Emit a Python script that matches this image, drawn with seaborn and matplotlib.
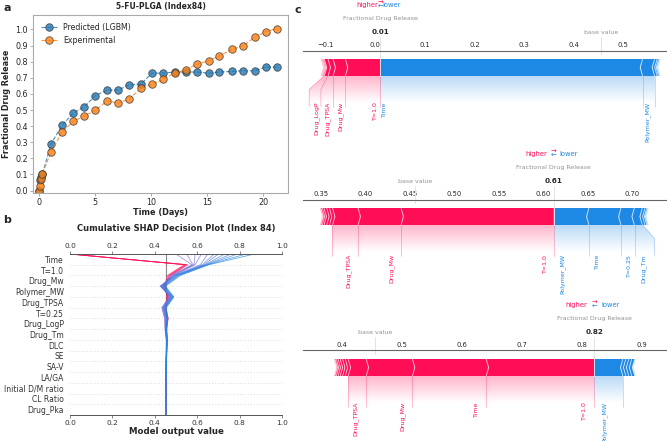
import numpy as np
import pandas as pd
import matplotlib
matplotlib.use("Agg")
import matplotlib.pyplot as plt
import seaborn as sns
from matplotlib.colors import LinearSegmentedColormap
from matplotlib.lines import Line2D
from matplotlib.path import Path
from matplotlib.patches import PathPatch, Polygon

sns.set_style("white")
plt.rcParams["font.family"] = ["DejaVu Sans"]

# ---------------- data: panel a ----------------
time_days = [0.0, 0.08, 0.2, 0.33, 1.1, 2.1, 3.1, 4.0, 5.05, 6.1, 7.1, 8.05, 9.1,
             10.1, 11.05, 12.1, 13.1, 14.1, 15.15, 16.1, 17.2, 18.2, 19.25, 20.2, 21.2]
pred_lgbm = [0.0, 0.065, 0.085, 0.1, 0.289, 0.407, 0.481, 0.517, 0.589, 0.624, 0.624,
             0.657, 0.661, 0.729, 0.729, 0.736, 0.736, 0.736, 0.729, 0.736, 0.74, 0.744,
             0.744, 0.767, 0.767]
experimental = [0.0, 0.03, 0.075, 0.105, 0.238, 0.366, 0.43, 0.461, 0.498, 0.558, 0.543,
                0.568, 0.634, 0.659, 0.69, 0.729, 0.75, 0.785, 0.806, 0.837, 0.876, 0.899,
                0.952, 0.986, 1.006]
series_names = ["Predicted (LGBM)", "Experimental"]

# ---------------- data: panel b (decision plot) ----------------
decision_features = ["Time", "T=1.0", "Drug_Mw", "Polymer_MW", "Drug_TPSA", "T=0.25",
                     "Drug_LogP", "Drug_Tm", "DLC", "SE", "SA-V", "LA/GA",
                     "Initial D/M ratio", "CL Ratio", "Drug_Pka"]
decision_base = 0.452
# cumulative model output at each feature boundary, bottom (base) -> top (final)
decision_paths = [
    [0.452, 0.452, 0.452, 0.453, 0.453, 0.454, 0.455, 0.456, 0.452, 0.458, 0.447, 0.458, 0.445, 0.460, 0.540, 0.000],
    [0.452, 0.452, 0.452, 0.453, 0.453, 0.454, 0.455, 0.457, 0.453, 0.460, 0.449, 0.460, 0.450, 0.465, 0.545, 0.000],
    [0.452, 0.452, 0.452, 0.453, 0.453, 0.454, 0.455, 0.457, 0.454, 0.462, 0.450, 0.462, 0.447, 0.470, 0.550, 0.000],
    [0.452, 0.452, 0.452, 0.453, 0.453, 0.454, 0.456, 0.458, 0.455, 0.463, 0.452, 0.465, 0.443, 0.475, 0.555, 0.000],
    [0.452, 0.452, 0.452, 0.452, 0.453, 0.453, 0.454, 0.454, 0.448, 0.446, 0.433, 0.468, 0.440, 0.475, 0.575, 0.500],
    [0.452, 0.452, 0.452, 0.452, 0.453, 0.453, 0.454, 0.455, 0.449, 0.448, 0.435, 0.470, 0.436, 0.480, 0.580, 0.550],
    [0.452, 0.452, 0.452, 0.452, 0.453, 0.453, 0.454, 0.455, 0.450, 0.450, 0.437, 0.472, 0.432, 0.485, 0.585, 0.590],
    [0.452, 0.452, 0.452, 0.452, 0.453, 0.454, 0.455, 0.456, 0.451, 0.452, 0.439, 0.474, 0.428, 0.490, 0.590, 0.620],
    [0.452, 0.452, 0.452, 0.452, 0.453, 0.454, 0.455, 0.456, 0.452, 0.454, 0.440, 0.476, 0.425, 0.490, 0.615, 0.650],
    [0.452, 0.452, 0.452, 0.452, 0.453, 0.454, 0.455, 0.457, 0.452, 0.455, 0.442, 0.478, 0.428, 0.495, 0.625, 0.680],
    [0.452, 0.452, 0.452, 0.452, 0.453, 0.454, 0.455, 0.457, 0.453, 0.456, 0.444, 0.480, 0.430, 0.500, 0.632, 0.700],
    [0.452, 0.452, 0.452, 0.452, 0.453, 0.454, 0.456, 0.457, 0.453, 0.457, 0.446, 0.482, 0.434, 0.500, 0.638, 0.730],
    [0.452, 0.452, 0.452, 0.452, 0.453, 0.454, 0.456, 0.458, 0.454, 0.458, 0.448, 0.484, 0.438, 0.505, 0.642, 0.760],
    [0.452, 0.452, 0.452, 0.452, 0.453, 0.454, 0.456, 0.458, 0.455, 0.459, 0.450, 0.486, 0.442, 0.510, 0.646, 0.790],
    [0.452, 0.452, 0.452, 0.452, 0.453, 0.455, 0.457, 0.459, 0.456, 0.460, 0.452, 0.488, 0.446, 0.515, 0.650, 0.830],
    [0.452, 0.452, 0.452, 0.452, 0.453, 0.455, 0.457, 0.459, 0.457, 0.462, 0.454, 0.490, 0.450, 0.520, 0.655, 0.870],
]

# ---------------- data: panel c (force plots) ----------------
force_base = [0.455, 0.4555, 0.455]
force1_names = ["T=1.0", "Drug_Mw", "Drug_TPSA", "Drug_LogP", "Drug_Tm", "DLC", "SE", "SA-V",
                "Time", "Polymer_MW", "T=0.25", "LA/GA", "CL Ratio"]
force1_shap = [0.0713, 0.0248, 0.0101, 0.0075, 0.002, 0.0015, 0.001, 0.0005,
               -0.5295, -0.0242, -0.005, -0.003, -0.002]
force2_names = ["T=1.0", "Drug_Mw", "Drug_TPSA", "Drug_LogP", "DLC", "SE", "SA-V", "LA/GA",
                "Polymer_MW", "Time", "T=0.25", "Drug_Tm", "CL Ratio", "Initial D/M ratio", "Drug_Pka"]
force2_shap = [0.172, 0.0483, 0.0287, 0.0035, 0.003, 0.003, 0.002, 0.0015,
               -0.040, -0.036, -0.015, -0.009, -0.003, -0.002, -0.001]
force3_names = ["T=1.0", "Time", "Drug_Mw", "Drug_TPSA", "Drug_LogP", "DLC", "SE", "SA-V", "LA/GA", "Drug_Tm",
                "Polymer_MW", "T=0.25", "Initial D/M ratio", "CL Ratio", "Drug_Pka"]
force3_shap = [0.181, 0.123, 0.077, 0.030, 0.0049, 0.0045, 0.004, 0.0035, 0.003, 0.0021,
               -0.048, -0.00495, -0.00495, -0.00495, -0.00495]
force_out_name = "Fractional Drug Release"

# ---------------- figure ----------------
W, H = 667, 441
fig = plt.figure(figsize=(W / 100, H / 100), dpi=100)


def ax_px(left, top, right, bottom):
    return fig.add_axes([left / W, 1 - bottom / H, (right - left) / W, (bottom - top) / H])


# ===== panel a =====
axa = ax_px(33, 15, 288, 193)
n = len(time_days)
dfa = pd.DataFrame({
    "Time (Days)": time_days + time_days,
    "Fractional Drug Release": pred_lgbm + experimental,
    "series": [series_names[0]] * n + [series_names[1]] * n,
})
sns.lineplot(data=dfa, x="Time (Days)", y="Fractional Drug Release", hue="series",
             palette=["#1f77b4", "#ff7f0e"], marker="o", markersize=5.4,
             markeredgecolor="#333333", markeredgewidth=0.6, linestyle="--",
             linewidth=0.8, alpha=0.8, errorbar=None, estimator=None, ax=axa)
axa.set_xlim(-0.5, 22.2)
axa.set_ylim(-0.015, 1.09)
axa.set_xticks([0, 5, 10, 15, 20])
axa.set_yticks(np.round(np.arange(0, 1.01, 0.1), 1))
axa.tick_params(labelsize=5.8, length=2, width=0.5, color="#888888", pad=1.5,
                left=True, bottom=True)
for s in axa.spines.values():
    s.set_color("#aaaaaa")
    s.set_linewidth(0.8)
axa.set_xlabel("Time (Days)", fontsize=5.9, fontweight="bold", labelpad=1)
axa.set_ylabel("Fractional Drug Release", fontsize=5.8, fontweight="bold")
axa.yaxis.set_label_coords(-0.088, 0.5)
h, l = axa.get_legend_handles_labels()
axa.legend(h, l, loc="upper left", fontsize=5.7, frameon=False, handlelength=2.0,
           borderaxespad=0.6, labelspacing=0.5)
fig.text(160.5 / W, 1 - 6 / H, "5-FU-PLGA (Index84)", fontsize=5.5, fontweight="bold",
         ha="center", va="center")
fig.text(7 / W, 1 - 8 / H, "a", fontsize=8, fontweight="bold", ha="center", va="center")

# ===== panel b =====
axb = ax_px(70, 254, 282, 415)
nfeat = len(decision_features)
final_vals = np.array([p[-1] for p in decision_paths])
cmap_dec = LinearSegmentedColormap.from_list("dec", ["#ff0d57", "#9d5fd0", "#1e88e5"])
norm_vals = (final_vals - final_vals.min()) / (final_vals.max() - final_vals.min())
rows = []
for i, path in enumerate(decision_paths):
    for k, v in enumerate(path):
        rows.append({"line": f"L{i}", "value": v, "pos": k})
dfb = pd.DataFrame(rows)
pal = {f"L{i}": cmap_dec(norm_vals[i]) for i in range(len(decision_paths))}
for k in range(1, nfeat):
    axb.axhline(k, color="#bbbbbb", lw=0.5, ls=(0, (1, 3)), zorder=0)
axb.axvline(decision_base, color="#888888", lw=0.8, zorder=1)
sns.lineplot(data=dfb, x="value", y="pos", hue="line", palette=pal, orient="y",
             estimator=None, sort=True, legend=False, linewidth=0.6, alpha=0.7, ax=axb)
axb.set_xlim(0, 1)
axb.set_ylim(0, nfeat)
axb.set_yticks(np.arange(nfeat) + 0.5)
axb.set_yticklabels(decision_features[::-1])
axb.set_xticks(np.round(np.arange(0, 1.01, 0.2), 1))
axb.tick_params(axis="x", labelsize=5.3, top=True, labeltop=True, bottom=True,
                length=2, width=0.5, color="#555555", pad=1.5, labelcolor="#333333")
axb.tick_params(axis="y", labelsize=5.5, left=False, pad=1, labelcolor="#333333")
axb.spines["left"].set_visible(False)
axb.spines["right"].set_visible(False)
for s in ["top", "bottom"]:
    axb.spines[s].set_color("#555555")
    axb.spines[s].set_linewidth(0.7)
axb.set_xlabel("Model output value", fontsize=6.2, fontweight="bold", labelpad=1)
axb.set_ylabel("")
fig.text(176 / W, 1 - 229 / H, "Cumulative SHAP Decision Plot (Index 84)", fontsize=6,
         fontweight="bold", ha="center", va="center")
fig.text(7 / W, 1 - 220 / H, "b", fontsize=8, fontweight="bold", ha="center", va="center")

# ===== panel c: force plots =====
fig.text(298 / W, 1 - 10 / H, "c", fontsize=8, fontweight="bold", ha="center", va="center")

RED, RED_L = "#FF0D57", "#FFC3D5"
BLUE, BLUE_L = "#1E88E5", "#D1E6FA"
SC = 0.375  # font scale of the embedded force plots
PX_Y = 170.0  # pixels per y unit


def force_plot(names, shap_vals, base_value, v0, p0, pxu, bar_bottom, offset_px, label_y=-0.15):
    left_px, right_px = 303, 667
    top_px = bar_bottom - 0.15 * PX_Y
    bot_px = bar_bottom + 0.5 * PX_Y
    ax = ax_px(left_px, top_px, right_px, bot_px)
    ax.set_xlim(v0 + (left_px - p0) / pxu, v0 + (right_px - p0) / pxu)
    ax.set_ylim(-0.5, 0.15)
    ax.set_facecolor("none")
    for k, s in ax.spines.items():
        s.set_visible(k == "top")
    ax.spines["top"].set_color("#666666")
    ax.spines["top"].set_linewidth(0.8)
    ax.tick_params(top=True, bottom=False, left=False, labelleft=False, labeltop=True,
                   labelbottom=False, labelsize=13 * SC, length=0, pad=2)
    ax.locator_params(axis="x", nbins=12)

    vals = np.array(shap_vals, dtype=float)
    names = np.array(names)
    out_value = base_value + vals.sum()
    pos_idx = [i for i in np.argsort(-vals) if vals[i] > 0]
    neg_idx = [i for i in np.argsort(vals) if vals[i] < 0]
    pos_feats = [(out_value - np.sum(vals[pos_idx[:j + 1]]), names[pos_idx[j]]) for j in range(len(pos_idx))]
    neg_feats = [(out_value - np.sum(vals[neg_idx[:j + 1]]), names[neg_idx[j]]) for j in range(len(neg_idx))]
    total_pos = vals[vals > 0].sum()
    total_neg = vals[vals < 0].sum()
    offset_text = offset_px / pxu
    width_bar = 0.1
    width_sep = 2.5 / pxu

    def draw_bars(feats, ftype):
        pre_val = out_value
        for index, (bound, _) in enumerate(feats):
            if ftype == "positive":
                lb, rb = bound, pre_val
                pre_val = lb
                ind = abs(width_sep)
                sep_pos = lb
                cols = [RED, RED_L]
            else:
                lb, rb = pre_val, bound
                pre_val = rb
                ind = -abs(width_sep)
                sep_pos = rb
                cols = [BLUE, BLUE_L]
            if index == 0:
                if ftype == "positive":
                    pts = [[lb, 0], [rb, 0], [rb, width_bar], [lb, width_bar], [lb + ind, width_bar / 2]]
                else:
                    pts = [[rb, 0], [lb, 0], [lb, width_bar], [rb, width_bar], [rb + ind, width_bar / 2]]
            else:
                pts = [[lb, 0], [rb, 0], [rb + ind * 0.9, width_bar / 2], [rb, width_bar],
                       [lb, width_bar], [lb + ind * 0.9, width_bar / 2]]
            ax.add_patch(Polygon(pts, closed=True, fill=True, facecolor=cols[0], linewidth=0))
            sep = [[sep_pos, 0], [sep_pos + ind, width_bar / 2], [sep_pos, width_bar]]
            ax.add_patch(Polygon(sep, closed=False, fill=False, edgecolor=cols[1], lw=3 * SC))

    draw_bars(neg_feats, "negative")
    draw_bars(pos_feats, "positive")

    renderer = fig.canvas.get_renderer()
    pad_px = 1.5 * fig.dpi / 72.0
    total_effect = abs(total_neg) + total_pos

    def draw_labels(feats, ftype):
        start_text = out_value
        pre_val = out_value
        if ftype == "positive":
            col, align, sign = RED, "right", 1
            ln = Line2D([pre_val, pre_val], [0, -0.18], lw=1.0 * SC, alpha=0.5, color=col)
            ln.set_clip_on(False)
            ax.add_line(ln)
        else:
            col, align, sign = BLUE, "left", -1
        box_end = out_value
        for bound, name in feats:
            contrib = abs(bound - pre_val) / abs(total_effect)
            if contrib < 0.01:
                break
            val = bound
            t = ax.text(start_text - sign * offset_text, label_y, name, fontsize=12 * SC,
                        color=col, ha=align, va="top", rotation=90)
            bb = t.get_window_extent(renderer)
            x0 = ax.transData.inverted().transform((bb.x0 - pad_px, 0))[0]
            x1 = ax.transData.inverted().transform((bb.x1 + pad_px, 0))[0]
            box_end_ = x0 if ftype == "positive" else x1
            if box_end_ > ax.get_xlim()[1]:
                t.remove()
                break
            if sign * box_end_ > sign * val:
                ln = Line2D([val, val], [0, -0.18], lw=1.0 * SC, alpha=0.5, color=col)
                start_text = val
                box_end = val
            else:
                box_end = box_end_ - sign * offset_text
                ln = Line2D([val, box_end, box_end], [0, -0.08, -0.18], lw=1.0 * SC, alpha=0.5, color=col)
                start_text = box_end
            ln.set_clip_on(False)
            ax.add_line(ln)
            pre_val = bound
        path = Path([[out_value, 0], [pre_val, 0], [box_end, -0.08], [box_end, -0.2],
                     [out_value, -0.2], [out_value, 0]])
        patch = PathPatch(path, facecolor="none", edgecolor="none")
        ax.add_patch(patch)
        c0 = RED if ftype == "positive" else BLUE
        cm = LinearSegmentedColormap.from_list("cm", [c0, "#ffffff"])
        _, Z2 = np.meshgrid(np.linspace(0, 10), np.linspace(-10, 10))
        im = ax.imshow(Z2, interpolation="quadric", cmap=cm, vmax=0.01, alpha=0.3,
                       origin="lower", extent=[out_value, box_end, 0, -0.31],
                       aspect="auto", zorder=0)
        im.set_clip_path(patch)

    draw_labels(neg_feats, "negative")
    draw_labels(pos_feats, "positive")
    ax.set_xlim(v0 + (left_px - p0) / pxu, v0 + (right_px - p0) / pxu)
    ax.set_ylim(-0.5, 0.15)

    # higher / lower legend
    for txt, x, y, c, ha in [("higher", out_value - offset_text, 0.405, RED, "right"),
                             ("lower", out_value + offset_text, 0.405, BLUE, "left"),
                             (r"$\leftarrow$", out_value, 0.4, BLUE, "center"),
                             (r"$\rightarrow$", out_value, 0.425, RED, "center")]:
        tt = ax.text(x, y, txt, fontsize=13 * SC, color=c, ha=ha)
        tt.set_clip_on(False)
    # base value
    ln = Line2D([base_value, base_value], [0.13, 0.25], lw=2 * SC, color="#e4e4e4")
    ln.set_clip_on(False)
    ax.add_line(ln)
    tb = ax.text(base_value, 0.25, "base value", fontsize=12 * SC, alpha=0.5, ha="center")
    tb.set_bbox(dict(facecolor="white", edgecolor="white", pad=1.0))
    # output value
    ln = Line2D([out_value, out_value], [0, 0.24], lw=2 * SC, color="#e4e4e4")
    ln.set_clip_on(False)
    ax.add_line(ln)
    to = ax.text(out_value, 0.25, f"{out_value:.2f}", fontsize=14 * SC, fontweight="bold", ha="center")
    to.set_bbox(dict(facecolor="white", edgecolor="white", pad=1.0))
    tn = ax.text(out_value, 0.33, force_out_name, fontsize=12 * SC, alpha=0.5, ha="center")
    tn.set_bbox(dict(facecolor="white", edgecolor="white", pad=1.0))
    return ax


force_plot(force1_names, force1_shap, force_base[0], 0.0, 375.4, 496.0, 76, 2.0)
force_plot(force2_names, force2_shap, force_base[1], 0.35, 321.0, 890.0, 225, 6.0, label_y=-0.17)
force_plot(force3_names, force3_shap, force_base[2], 0.4, 342.3, 600.0, 376, 7.0)

fig.savefig("out.png", dpi=100)
